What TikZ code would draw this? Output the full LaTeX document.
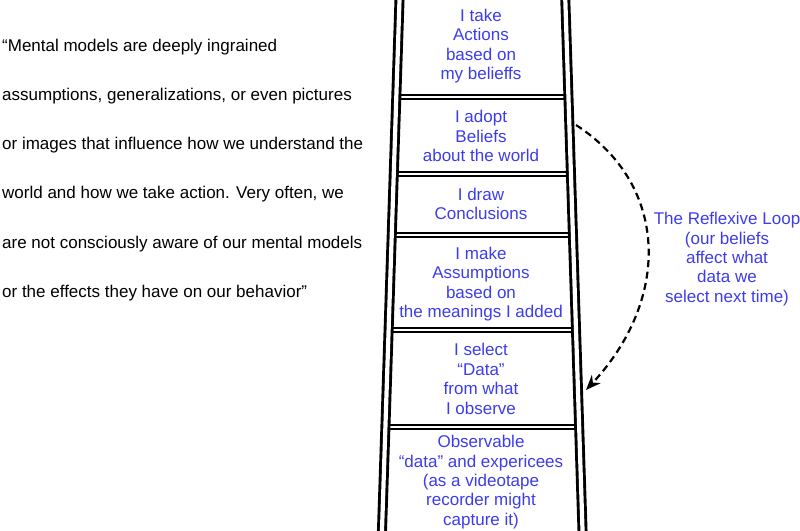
\documentclass[tikz,border=0pt]{standalone}
\usepackage{fontspec}
\setmainfont{Liberation Sans}
\usetikzlibrary{arrows.meta,positioning,calc}
\definecolor{lblue}{RGB}{60,60,235}

\begin{document}
\begin{tikzpicture}[x=1pt,y=-1pt,
  stepbox/.style={text=lblue,align=center,inner sep=0pt,font=\fontsize{17}{19.4}\selectfont},
  quote/.style={anchor=west,inner sep=0pt,font=\fontsize{17}{20}\selectfont},
  rail/.style={draw=black,line width=2.9pt,double=white,double distance=4.2pt},
  rung/.style={draw=black,line width=1.4pt,double=white,double distance=2.4pt},
  looparr/.style={-{Stealth[length=15pt,width=12pt]},line width=2.2pt,dash pattern=on 7pt off 4.5pt}]
\useasboundingbox (0,0) rectangle (800,530);
% ladder rails
\coordinate (ltop) at (399.5,0); \coordinate (lbot) at (382,530);
\coordinate (rtop) at (565.3,0); \coordinate (rbot) at (582.5,530);
\foreach \r in {97,174,235,330,427}
  \draw[rung] ($(ltop)!\r/530!(lbot)$) -- ($(rtop)!\r/530!(rbot)$);
\draw[rail] ($(ltop)!-0.02!(lbot)$) -- ($(ltop)!1.02!(lbot)$);
\draw[rail] ($(rtop)!-0.02!(rbot)$) -- ($(rtop)!1.02!(rbot)$);
% steps
\node[stepbox] (actions) at (481,46) {I take\\Actions\\based on\\my belieffs};
\node[stepbox] (beliefs) at (481,136) {I adopt\\Beliefs\\about the world};
\node[stepbox] (conclusions) at (481,204) {I draw\\Conclusions};
\node[stepbox] (assumptions) at (481,284) {I make\\Assumptions\\based on\\the meanings I added};
\node[stepbox] (data) at (481,379) {I select\\“Data”\\from what\\I observe};
\node[stepbox] (observable) at (481,482) {Observable\\“data” and expericees\\(as a videotape\\recorder might\\capture it)};
% reflexive loop
\node[stepbox] (reflexive) at (727,259) {The Reflexive Loop\\(our beliefs\\affect what\\data we\\select next time)};
\coordinate (loopstart) at (576,125); \coordinate (loopend) at (586,390);
\draw[looparr] (loopstart) .. controls (670,186) and (670,300) .. (loopend);
% quote
\foreach \txt [count=\i] in {{“Mental models are deeply ingrained},
  {assumptions, generalizations, or even pictures},
  {or images that influence how we understand the},
  {world and how we take action. Very often, we},
  {are not consciously aware of our mental models},
  {or the effects they have on our behavior”}}
  \node[quote] (quote\i) at (2,{47+49.2*(\i-1)}) {\txt};
\end{tikzpicture}
\end{document}
